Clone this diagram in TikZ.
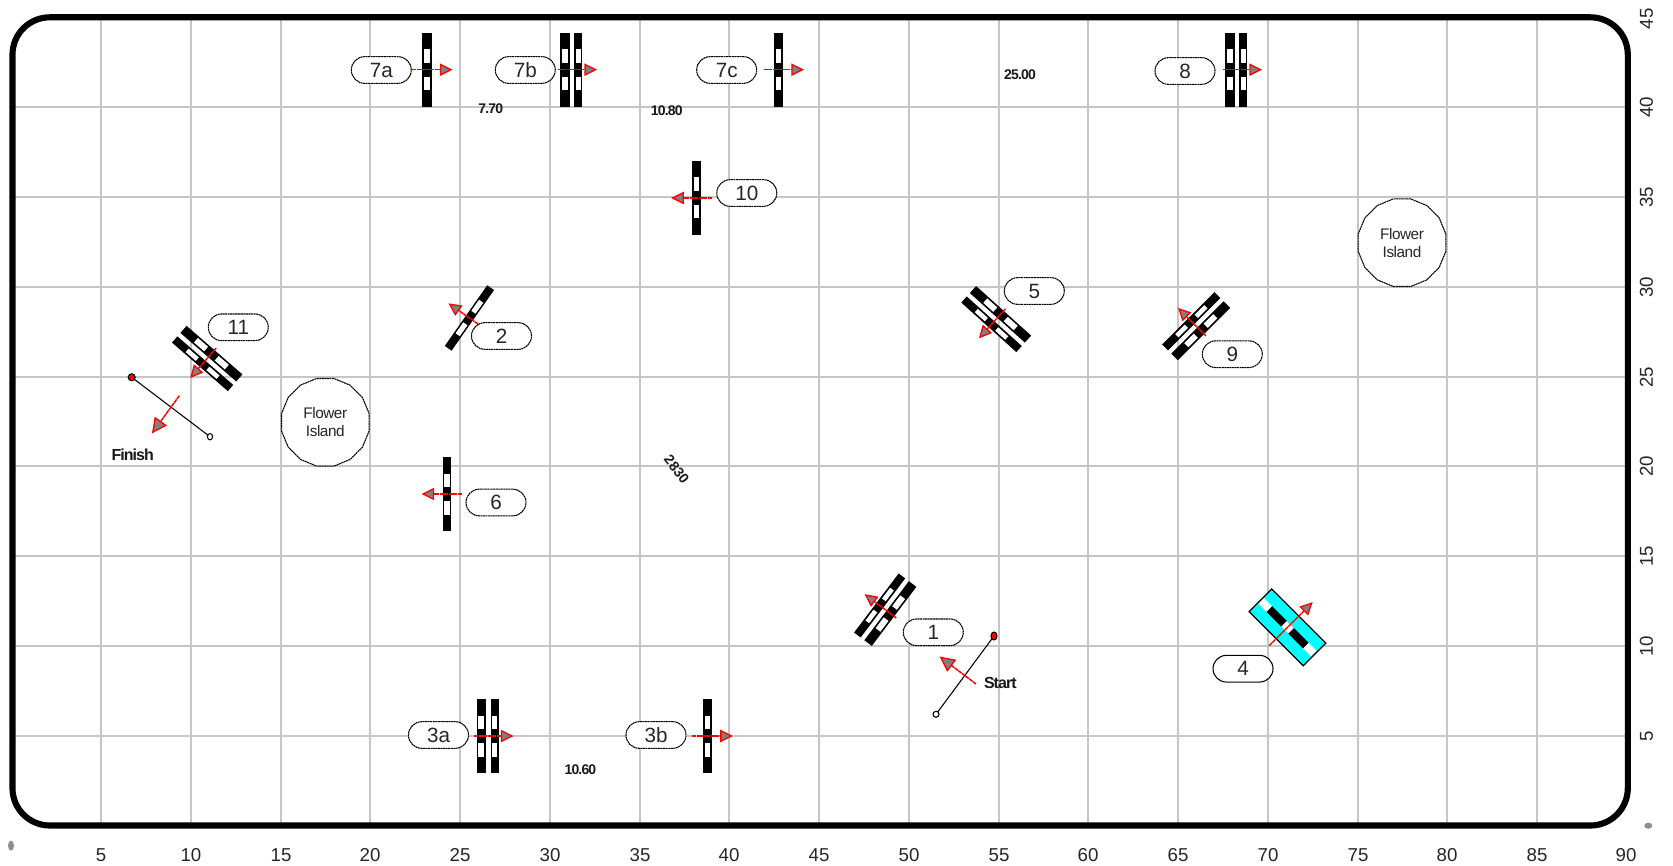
\documentclass[tikz,border=0pt]{standalone}
\usepackage{fontspec}
\setmainfont{Liberation Sans}
\newfontfamily\tightfont[LetterSpace=-6]{Liberation Sans}
\newfontfamily\islandfont[LetterSpace=-3]{Liberation Sans}
\usetikzlibrary{shapes.misc,shapes.geometric}
\definecolor{gridgray}{HTML}{C6C6C6}
\definecolor{dotgray}{HTML}{8E8E8E}
\definecolor{headgray}{HTML}{808080}
\definecolor{gatecyan}{HTML}{00FFFF}
\definecolor{pured}{HTML}{FF0000}
\tikzset{
  x=0.75pt,y=-0.75pt,
  gridline/.style={draw=gridgray,line width=1.5pt},
  frameline/.style={draw=black,line width=4.6pt,rounded corners=28pt},
  axlabel/.style={font=\fontsize{14}{14}\selectfont,text=black!85,inner sep=0pt},
  tag/.style={rounded rectangle,draw=black,line width=0.8pt,dash pattern=on 1.5pt off 0.4pt,fill=white,
    minimum width=45pt,minimum height=20pt,inner sep=0pt,
    font=\fontsize{15.5}{15.5}\selectfont,text=black!85},
  dimlabel/.style={font=\tightfont\bfseries\fontsize{10.5}{10.5}\selectfont,inner sep=0pt,text=black!90},
  marklabel/.style={font=\tightfont\bfseries\fontsize{12}{12}\selectfont,inner sep=0pt,text=black!90},
  island/.style={regular polygon,regular polygon sides=16,draw=black,line width=0.8pt,dash pattern=on 1.5pt off 0.4pt,
    minimum size=67pt,inner sep=0pt,align=center,font=\islandfont\fontsize{11.5}{13.5}\selectfont,text=black!85},
  redline/.style={draw=pured,line width=1.1pt,dash pattern=on 3pt off 0.4pt},
  redhead/.style={draw=pured,fill=headgray,line width=1.0pt,line join=miter},
  markline/.style={draw=black,line width=0.8pt},
}
% bar across the course: local offset, width, window width
\newcommand{\gatebar}[3]{%
  \fill[black] ({#1-#2/2},-37) rectangle ({#1+#2/2},37);
  \fill[white] ({#1-#3/2},-20.5) rectangle ({#1+#3/2},-7);
  \fill[white] ({#1-#3/2},7) rectangle ({#1+#3/2},20.5);
}
% course arrow along local +x
\newcommand{\flagarrow}[3]{% start, end, head length
  \draw[redline] (#1,0) -- (#2-#3+1,0);
  \draw[redhead] (#2,0) -- (#2-#3,{-#3*0.5}) -- (#2-#3,{#3*0.5}) -- cycle;
}
\newcommand{\gatesingle}[4]{% x,y,angle,bar width
  \begin{scope}[shift={(#1,#2)},rotate=#3]
    \gatebar{0}{#4}{#4*0.62}
    \flagarrow{-15}{24}{10.5}
  \end{scope}}
\newcommand{\gatedouble}[3]{% x,y,angle
  \begin{scope}[shift={(#1,#2)},rotate=#3]
    \gatebar{-6.7}{9.4}{6}
    \gatebar{6.7}{8.2}{4.6}
    \flagarrow{-14}{24}{10.5}
  \end{scope}}
\begin{document}
\begin{tikzpicture}
\useasboundingbox (0,0) rectangle (1673,866);
\fill[white] (0,0) rectangle (1673,866);
% grid
\foreach \u in {5,10,...,85}{
  \pgfmathsetmacro{\gx}{round(11.3+17.95*\u)}
  \draw[gridline] (\gx,17) -- (\gx,825);
  \node[axlabel] at (\gx,855.5) {\u};
}
\node[axlabel] at (1626,855.5) {90};
\foreach \v in {5,10,...,40}{
  \pgfmathsetmacro{\gy}{round(825.3-17.95*\v)}
  \draw[gridline] (12,\gy) -- (1628,\gy);
  \node[axlabel,rotate=90] at (1646.5,\gy) {\v};
}
\node[axlabel,rotate=90] at (1646.5,19) {45};
% frame
\draw[frameline] (12.5,17.3) rectangle (1627.8,825.5);
% stray marks
\fill[dotgray] (11,845.7) ellipse [x radius=3,y radius=5];
\fill[dotgray] (1648.3,825.7) ellipse [x radius=4,y radius=3];
% gates
\gatesingle{427}{69.7}{0}{9.7}
\gatedouble{571.6}{69.7}{0}
\gatesingle{778.5}{69.7}{0}{8.3}
\gatedouble{1236.5}{69.7}{0}
\gatesingle{696.7}{198}{180}{8.5}
\gatesingle{469.4}{318}{145}{8.3}
\gatesingle{447}{494}{180}{8.5}
\gatedouble{488}{736}{0}
\gatesingle{707.4}{736}{0}{8.5}
\gatedouble{885}{609.5}{143}
\gatedouble{996}{319.3}{228}
\gatedouble{1196}{326}{135}
\gatedouble{207}{358.7}{229}
% cyan gate 4
\begin{scope}[shift={(1287.5,627.3)},rotate=45]
  \draw[fill=gatecyan,draw=black,line width=0.9pt] (-16,-38.3) rectangle (16,38.3);
  \fill[black] (-4,-26) rectangle (4,26);
  \fill[white] (-4,-37) rectangle (4,-26);
  \fill[white] (-4,-5) rectangle (4,5);
  \fill[white] (-4,26) rectangle (4,37);
  \flagarrow{-26}{34}{10.5}
\end{scope}
% start line
\coordinate (startA) at (994,636);
\coordinate (startB) at (936,714.3);
\draw[markline] (startA) -- (startB);
\draw[black,fill=pured,line width=0.8pt] (startA) ellipse [x radius=3,y radius=4];
\draw[black,fill=white,line width=0.8pt] (startB) circle [radius=3];
\begin{scope}[shift={(976,684)},rotate=143]
  \flagarrow{0}{44}{13}
\end{scope}
% finish line
\coordinate (finA) at (131.7,377.3);
\coordinate (finB) at (210,436.7);
\draw[markline] (finA) -- (finB);
\draw[black,fill=pured,line width=0.8pt] (finA) circle [radius=3.5];
\draw[black,fill=white,line width=0.8pt] (finB) ellipse [x radius=2.6,y radius=3.2];
\begin{scope}[shift={(179.3,395.7)},rotate=234]
  \flagarrow{0}{45}{13}
\end{scope}
% tags
\node[tag] (t7a) at (381.3,70) {7a};
\node[tag] (t7b) at (525.3,70) {7b};
\node[tag] (t7c) at (726.7,70) {7c};
\node[tag] (t8) at (1185,71) {8};
\node[tag] (t10) at (746.8,193) {10};
\node[tag] (t2) at (501.5,336) {2};
\node[tag] (t5) at (1034.3,291) {5};
\node[tag] (t9) at (1232.3,354.2) {9};
\node[tag] (t11) at (238.3,327.3) {11};
\node[tag] (t6) at (496,502.5) {6};
\node[tag] (t3a) at (438.5,735) {3a};
\node[tag] (t3b) at (656,735) {3b};
\node[tag] (t1) at (933.3,632.3) {1};
\node[tag,solid] (t4) at (1243,668.7) {4};
% islands
\node[island] (isl1) at (325.3,422.3) {Flower\\Island};
\node[island] (isl2) at (1402,242.7) {Flower\\Island};
% texts
\node[dimlabel] (d1) at (490.7,109) {7.70};
\node[dimlabel] (d2) at (666.7,110.7) {10.80};
\node[dimlabel] (d3) at (1020,74.7) {25.00};
\node[dimlabel] (d4) at (580.4,769.2) {10.60};
\node[dimlabel,font=\bfseries\fontsize{10.5}{10.5}\selectfont,rotate=-52] (d5) at (676.7,469.3) {2830};
\node[marklabel] (ls) at (1000.3,682.7) {Start};
\node[marklabel] (lf) at (132.7,454.3) {Finish};
\end{tikzpicture}
\end{document}
